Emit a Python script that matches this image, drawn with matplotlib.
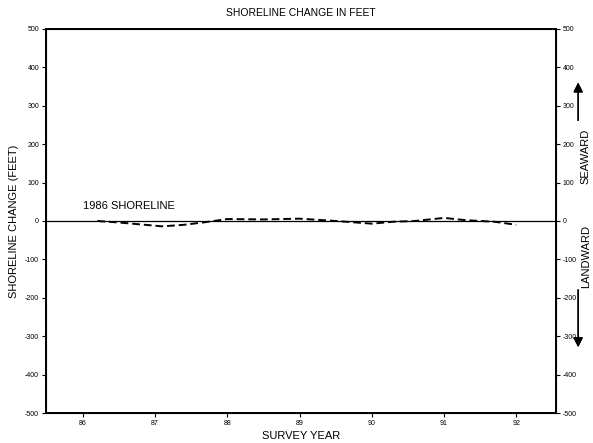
import numpy as np
import matplotlib.pyplot as plt

plt.rcParams['font.family'] = ['Liberation Sans', 'DejaVu Sans']
plt.rcParams['axes.unicode_minus'] = False

# survey years (19xx) and shoreline change relative to 1986 shoreline (ft)
years = [86.2, 86.5, 86.8, 87.1, 87.4, 87.7, 88.0, 88.5, 89.0, 89.5, 90.0, 90.3, 90.6, 91.0, 91.3, 91.7, 92.0]
change = [0, -4, -9, -14, -10, -3, 5, 4, 6, 0, -7, -2, 0, 8, 2, -2, -10]
xticks = [86, 87, 88, 89, 90, 91, 92]
yticks = [-500, -400, -300, -200, -100, 0, 100, 200, 300, 400, 500]

fig = plt.figure(figsize=(5.93, 4.43), dpi=100)
ax = fig.add_axes([0.0776, 0.0677, 0.86, 0.867])

# 1986 baseline
ax.axhline(0, color='black', lw=0.9)
ax.plot(years, change, color='black', lw=1.4, ls=(0, (4, 2)))
ax.text(86.0, 40, '1986 SHORELINE', fontsize=8, va='center', ha='left')

ax.set_xlim(85.49, 92.55)
ax.set_ylim(-500, 500)
ax.set_xticks(xticks)
ax.set_xticklabels([str(t) for t in xticks])
ax.set_yticks(yticks)
ax.tick_params(labelsize=5, length=3, width=0.8, direction='out', pad=2)
for s in ax.spines.values():
    s.set_linewidth(1.4)

ax2 = ax.twinx()
ax2.set_ylim(-500, 500)
ax2.set_yticks(yticks)
ax2.tick_params(labelsize=5, length=3, width=0.8, direction='out', pad=2)

ax.set_title('SHORELINE CHANGE IN FEET', fontsize=7.5, pad=9)
ax.set_xlabel('SURVEY YEAR', fontsize=8, labelpad=3)
ax.set_ylabel('SHORELINE CHANGE (FEET)', fontsize=8, labelpad=4)

# right side direction labels with arrows
fig.text(0.988, 0.648, 'SEAWARD', rotation=90, fontsize=8, ha='center', va='center')
fig.text(0.988, 0.42, 'LANDWARD', rotation=90, fontsize=8, ha='center', va='center')
fig.add_artist(plt.annotate('', xy=(0.975, 0.82), xytext=(0.975, 0.722), xycoords='figure fraction',
                            arrowprops=dict(arrowstyle='-|>', color='black', lw=1, mutation_scale=14)))
fig.add_artist(plt.annotate('', xy=(0.975, 0.21), xytext=(0.975, 0.352), xycoords='figure fraction',
                            arrowprops=dict(arrowstyle='-|>', color='black', lw=1, mutation_scale=14)))

fig.savefig('out.png', dpi=100)
